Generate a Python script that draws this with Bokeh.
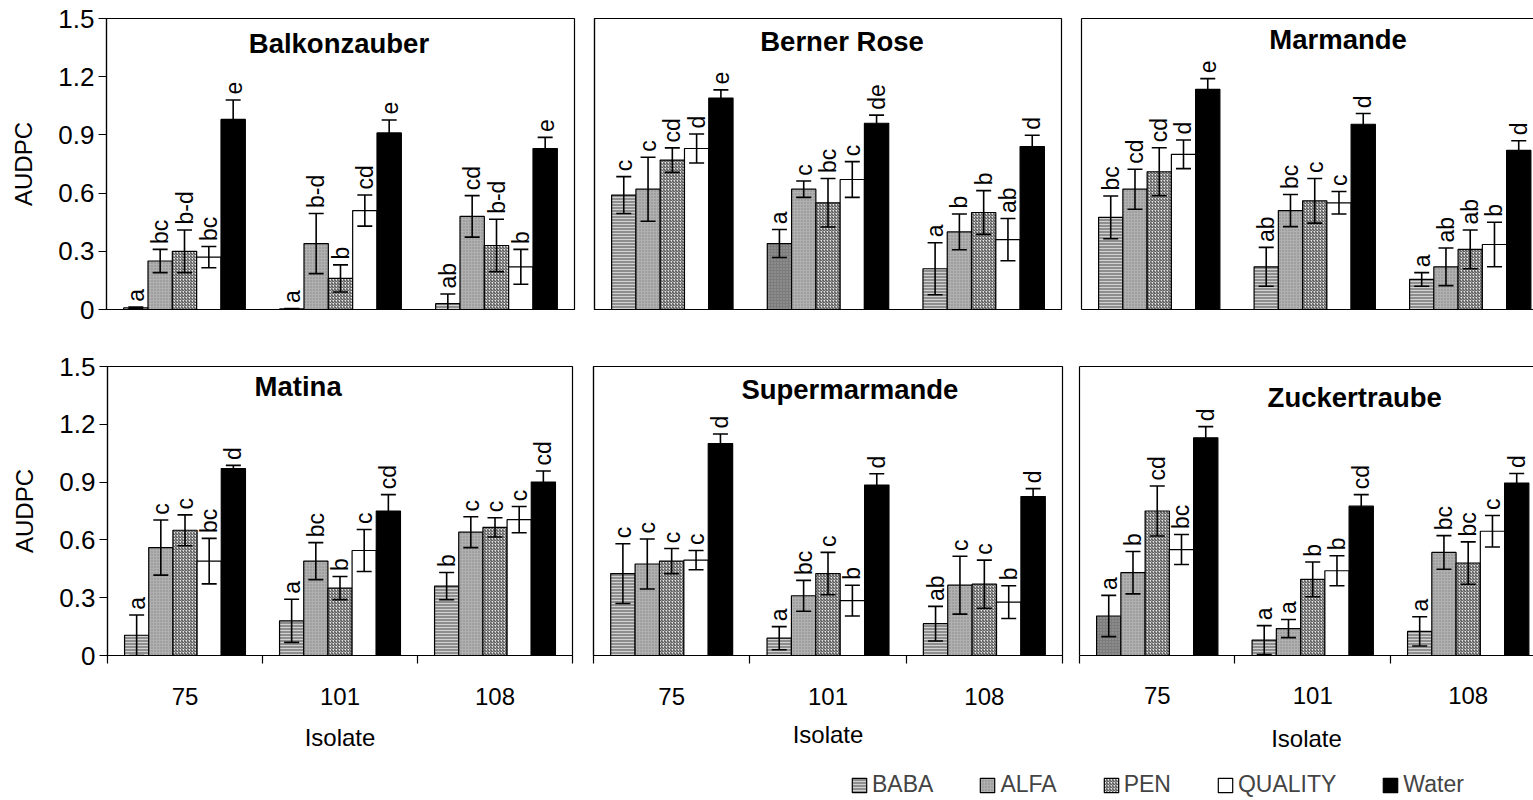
import numpy as np
from bokeh.plotting import figure
from bokeh.layouts import column, row
from bokeh.models import (ColumnDataSource, Range1d, FixedTicker, CustomJSTickFormatter,
                          LinearAxis, Whisker, TeeHead, Label, Legend, LegendItem)
from bokeh.core.properties import value, field
from bokeh.embed import file_html
from bokeh.resources import INLINE

FONT = "Liberation Sans"

# ---------------------------------------------------------------- data
isolates = ["75", "101", "108"]
treatments = ["BABA", "ALFA", "PEN", "QUALITY", "Water"]
y_ticks = [0, 0.3, 0.6, 0.9, 1.2, 1.5]

# AUDPC means per isolate (rows) and treatment (columns), with standard errors
balkonzauber_mean = [[0.008, 0.25, 0.30, 0.27, 0.98],
                     [0.003, 0.34, 0.16, 0.51, 0.91],
                     [0.03, 0.48, 0.33, 0.22, 0.83]]
balkonzauber_err = [[0.004, 0.06, 0.11, 0.055, 0.10],
                    [0.002, 0.155, 0.07, 0.08, 0.067],
                    [0.05, 0.107, 0.135, 0.09, 0.057]]
balkonzauber_letters = [["a", "bc", "b-d", "bc", "e"],
                        ["a", "b-d", "b", "cd", "e"],
                        ["ab", "cd", "b-d", "b", "e"]]

berner_rose_mean = [[0.59, 0.62, 0.77, 0.83, 1.09],
                    [0.34, 0.62, 0.55, 0.67, 0.96],
                    [0.21, 0.40, 0.50, 0.36, 0.84]]
berner_rose_err = [[0.095, 0.165, 0.063, 0.075, 0.042],
                   [0.072, 0.042, 0.125, 0.092, 0.042],
                   [0.134, 0.092, 0.113, 0.109, 0.058]]
berner_rose_letters = [["c", "c", "cd", "d", "e"],
                       ["a", "c", "bc", "c", "de"],
                       ["a", "b", "b", "ab", "d"]]

marmande_mean = [[0.475, 0.62, 0.71, 0.80, 1.135],
                 [0.22, 0.51, 0.56, 0.55, 0.955],
                 [0.155, 0.22, 0.31, 0.335, 0.82]]
marmande_err = [[0.11, 0.103, 0.124, 0.074, 0.055],
                [0.10, 0.083, 0.115, 0.058, 0.055],
                [0.035, 0.097, 0.10, 0.115, 0.05]]
marmande_letters = [["bc", "cd", "cd", "d", "e"],
                    ["ab", "bc", "c", "c", "d"],
                    ["a", "ab", "ab", "b", "d"]]

matina_mean = [[0.105, 0.56, 0.65, 0.49, 0.97],
               [0.18, 0.49, 0.35, 0.545, 0.75],
               [0.36, 0.64, 0.665, 0.705, 0.90]]
matina_err = [[0.105, 0.143, 0.08, 0.118, 0.017],
              [0.112, 0.096, 0.06, 0.109, 0.085],
              [0.071, 0.08, 0.05, 0.068, 0.058]]
matina_letters = [["a", "c", "c", "bc", "d"],
                  ["a", "bc", "b", "c", "cd"],
                  ["b", "c", "c", "c", "cd"]]

supermarmande_mean = [[0.425, 0.475, 0.49, 0.495, 1.10],
                      [0.09, 0.31, 0.425, 0.285, 0.885],
                      [0.165, 0.365, 0.37, 0.277, 0.825]]
supermarmande_err = [[0.155, 0.13, 0.065, 0.05, 0.05],
                     [0.06, 0.08, 0.11, 0.08, 0.058],
                     [0.09, 0.15, 0.125, 0.085, 0.041]]
supermarmande_letters = [["c", "c", "c", "c", "d"],
                         ["a", "bc", "c", "b", "d"],
                         ["ab", "c", "c", "b", "d"]]

zuckertraube_mean = [[0.205, 0.43, 0.75, 0.55, 1.13],
                     [0.08, 0.14, 0.395, 0.44, 0.775],
                     [0.125, 0.535, 0.48, 0.645, 0.895]]
zuckertraube_err = [[0.107, 0.11, 0.13, 0.078, 0.058],
                    [0.075, 0.047, 0.09, 0.078, 0.06],
                    [0.076, 0.087, 0.11, 0.082, 0.05]]
zuckertraube_letters = [["a", "b", "cd", "bc", "d"],
                        ["a", "a", "b", "b", "cd"],
                        ["a", "bc", "bc", "c", "d"]]

cultivar_data = [
    ("Balkonzauber", balkonzauber_mean, balkonzauber_err, balkonzauber_letters),
    ("Berner Rose", berner_rose_mean, berner_rose_err, berner_rose_letters),
    ("Marmande", marmande_mean, marmande_err, marmande_letters),
    ("Matina", matina_mean, matina_err, matina_letters),
    ("Supermarmande", supermarmande_mean, supermarmande_err, supermarmande_letters),
    ("Zuckertraube", zuckertraube_mean, zuckertraube_err, zuckertraube_letters),
]

# ---------------------------------------------------------------- styles
BAR_W = 0.156
TREATMENT_STYLE = {
    "BABA": dict(fill="#8e8e8e", hatch="horizontal_line", hatch_color="#d2d2d2", scale=3.0),
    "ALFA": dict(fill="#b0b0b0", hatch="dot", hatch_color="#858585", scale=3.0),
    "PEN": dict(fill="#e8e8e8", hatch="right_diagonal_line", hatch_color="#3c3c3c", scale=3.0),
    "QUALITY": dict(fill="white", hatch="blank", hatch_color="white", scale=3.0),
    "Water": dict(fill="black", hatch="blank", hatch_color="black", scale=3.0),
}
# a couple of BABA bars printed with a darker stipple
DARK_BABA = {("Berner Rose", "101"), ("Zuckertraube", "75")}
DARK_BABA_STYLE = dict(fill="#7c7c7c", hatch="dot", hatch_color="#a4a4a4")

# panel geometry: canvas size, borders around the plot frame, visible x extent,
# which axes carry labels, and where the cultivar name sits (data units)
PANEL_GEOM = {
    "Balkonzauber": dict(w=578, h=340, bl=106, br=4, bt=17, bb=31, x_end=3.0,
                         ylab=True, xlab=False, closed=True, name_at=(1.49, 1.37)),
    "Berner Rose": dict(w=493, h=340, bl=16, br=10, bt=17, bb=24, x_end=3.0,
                        ylab=False, xlab=False, closed=True, name_at=(1.59, 1.38)),
    "Marmande": dict(w=462, h=340, bl=10, br=0, bt=18, bb=19, x_end=2.907,
                     ylab=False, xlab=False, closed=False, name_at=(1.65, 1.39)),
    "Matina": dict(w=582, h=418, bl=107, br=10, bt=24, bb=98, x_end=3.0,
                   ylab=True, xlab=True, closed=True, name_at=(1.23, 1.395),
                   tick_standoff=24, label_standoff=16),
    "Supermarmande": dict(w=490, h=418, bl=11, br=10, bt=26, bb=100, x_end=3.0,
                          ylab=False, xlab=True, closed=True, name_at=(1.64, 1.38),
                          tick_standoff=24, label_standoff=13),
    "Zuckertraube": dict(w=461, h=418, bl=7, br=0, bt=26, bb=103, x_end=2.92,
                         ylab=False, xlab=True, closed=False, name_at=(1.77, 1.34),
                         tick_standoff=23, label_standoff=18),
}


def bare_axis(ax):
    """Axis that only draws its line."""
    ax.ticker = FixedTicker(ticks=[])
    ax.major_tick_out = 0
    ax.major_tick_in = 0
    ax.minor_tick_out = 0
    ax.minor_tick_in = 0
    ax.major_label_standoff = 0
    ax.major_label_text_font_size = "0px"
    ax.axis_line_color = "black"
    ax.axis_line_width = 1.2


def make_panel(name, means, errs, letters, g):
    p = figure(width=g["w"], height=g["h"], title=None,
               x_range=Range1d(0, g["x_end"]), y_range=Range1d(0, 1.5),
               output_backend="svg", toolbar_location=None,
               min_border_left=g["bl"], min_border_right=g["br"],
               min_border_top=g["bt"], min_border_bottom=g["bb"])
    p.grid.visible = False
    p.background_fill_color = "white"
    p.border_fill_color = "white"

    yax = p.left[0]
    xax = p.below[0]

    # y axis
    if g["ylab"]:
        yax.ticker = FixedTicker(ticks=y_ticks)
        yax.formatter = CustomJSTickFormatter(code="return tick == 0 ? '0' : tick.toFixed(1)")
        yax.major_tick_out = 8
        yax.major_tick_in = 0
        yax.minor_tick_out = 0
        yax.minor_tick_in = 0
        yax.major_label_standoff = 4
        yax.major_label_text_font = FONT
        yax.major_label_text_font_size = "26px"
        yax.major_label_text_color = "black"
        yax.axis_label = "AUDPC"
        yax.axis_label_text_font = FONT
        yax.axis_label_text_font_size = "24px"
        yax.axis_label_text_font_style = "normal"
        yax.axis_label_text_color = "black"
        yax.axis_label_standoff = 18
        yax.axis_line_color = "black"
        yax.axis_line_width = 1.2
        yax.major_tick_line_color = "black"
        yax.major_tick_line_width = 1.2
    else:
        bare_axis(yax)

    # x axis
    if g["xlab"]:
        centers = [i + 0.5 for i in range(len(isolates))]
        bounds = [float(i) for i in range(len(isolates) + 1)]
        xax.ticker = FixedTicker(ticks=centers, minor_ticks=bounds)
        xax.formatter = CustomJSTickFormatter(args=dict(names=isolates),
                                              code="return names[Math.floor(tick)]")
        xax.major_tick_out = 0
        xax.major_tick_in = 0
        xax.minor_tick_out = 8
        xax.minor_tick_in = 0
        xax.minor_tick_line_color = "black"
        xax.minor_tick_line_width = 1.2
        xax.major_label_standoff = g["tick_standoff"]
        xax.major_label_text_font = FONT
        xax.major_label_text_font_size = "24px"
        xax.major_label_text_color = "black"
        xax.axis_label = "Isolate"
        xax.axis_label_text_font = FONT
        xax.axis_label_text_font_size = "24px"
        xax.axis_label_text_font_style = "normal"
        xax.axis_label_text_color = "black"
        xax.axis_label_standoff = g["label_standoff"]
        xax.axis_line_color = "black"
        xax.axis_line_width = 1.2
    else:
        bare_axis(xax)

    if g["closed"]:
        p.outline_line_color = "black"
        p.outline_line_width = 1.2
    else:
        # open on the right: only a top rule
        p.outline_line_color = None
        top = LinearAxis()
        bare_axis(top)
        p.add_layout(top, "above")

    ni, nt = len(isolates), len(treatments)
    wx, wup, wlo = [], [], []
    lx, ly, lt = [], [], []
    for j, t in enumerate(treatments):
        st = TREATMENT_STYLE[t]
        xs, tops, fills, hps, hcs = [], [], [], [], []
        for i in range(ni):
            x = i + 0.5 + (j - (nt - 1) / 2) * BAR_W
            m, e = means[i][j], errs[i][j]
            xs.append(x)
            tops.append(m)
            if t == "BABA" and (name, isolates[i]) in DARK_BABA:
                fills.append(DARK_BABA_STYLE["fill"])
                hps.append(DARK_BABA_STYLE["hatch"])
                hcs.append(DARK_BABA_STYLE["hatch_color"])
            else:
                fills.append(st["fill"])
                hps.append(st["hatch"])
                hcs.append(st["hatch_color"])
            wx.append(x)
            wup.append(m + e)
            wlo.append(m - e)
            lx.append(x)
            ly.append(m + e + 0.028)
            lt.append(letters[i][j])
        src = ColumnDataSource(dict(x=xs, top=tops, fill=fills, hp=hps, hc=hcs))
        p.vbar(x="x", top="top", bottom=0, width=BAR_W, source=src,
               fill_color=field("fill"), hatch_pattern=field("hp"), hatch_color=field("hc"),
               hatch_scale=st["scale"], hatch_weight=1,
               line_color="black", line_width=1.2)

    wsrc = ColumnDataSource(dict(x=wx, upper=wup, lower=wlo))
    whisk = Whisker(source=wsrc, base="x", upper="upper", lower="lower",
                    line_color="black", line_width=1.6, level="annotation",
                    upper_head=TeeHead(size=15, line_color="black", line_width=1.6),
                    lower_head=TeeHead(size=15, line_color="black", line_width=1.6))
    p.add_layout(whisk)

    lsrc = ColumnDataSource(dict(x=lx, y=ly, t=lt))
    p.text(x="x", y="y", text="t", source=lsrc, angle=np.pi / 2,
           text_align="left", text_baseline="middle",
           text_font=value(FONT), text_font_size="23px", text_color="black")

    nx, ny = g["name_at"]
    p.add_layout(Label(x=nx, y=ny, text=name, text_align="center", text_baseline="middle",
                       text_font=FONT, text_font_size="27.5px", text_font_style="bold",
                       text_color="black"))
    return p


panels = [make_panel(n, m, e, l, PANEL_GEOM[n]) for n, m, e, l in cultivar_data]

# legend strip; each swatch renderer holds one bar placed left of the visible range
leg = figure(width=1533, height=40, title=None, x_range=Range1d(0, 1), y_range=Range1d(0, 1),
             output_backend="svg", toolbar_location=None,
             x_axis_location=None, y_axis_location=None,
             min_border_left=0, min_border_right=0, min_border_top=0, min_border_bottom=0)
leg.grid.visible = False
leg.outline_line_color = None
items = []
for t in treatments:
    st = TREATMENT_STYLE[t]
    r = leg.vbar(x=[-5], top=[0], width=0.1, fill_color=st["fill"], hatch_pattern=st["hatch"],
                 hatch_color=st["hatch_color"], hatch_scale=st["scale"], hatch_weight=1,
                 line_color="black", line_width=1.2)
    items.append(LegendItem(label=t, renderers=[r]))
legend = Legend(items=items, orientation="horizontal", location=(850, 0),
                spacing=45, glyph_width=18, glyph_height=18, label_standoff=4,
                label_text_font=FONT, label_text_font_size="23px",
                padding=0, margin=0, border_line_color=None, background_fill_alpha=0)
leg.add_layout(legend)

layout = column(row(panels[0], panels[1], panels[2]),
                row(panels[3], panels[4], panels[5]),
                leg)

open("out.html", "w").write(file_html(layout, INLINE))
